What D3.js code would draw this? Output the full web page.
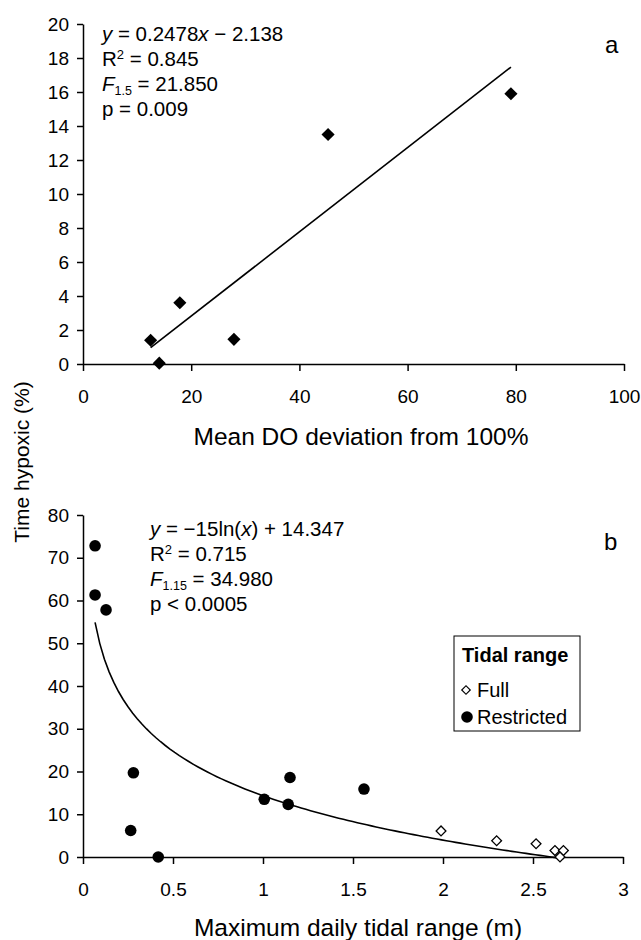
<!DOCTYPE html>
<html>
<head>
<meta charset="utf-8">
<script src="https://cdn.jsdelivr.net/npm/d3@7"></script>
<style>
  body { margin: 0; background: #fff; }
  svg { display: block; font-family: "Liberation Sans", Arial, sans-serif; }
  .axis path, .axis line { stroke: #000; stroke-width: 1.5; }
  .axis text { font-size: 19px; fill: #000; }
</style>
</head>
<body>
<svg width="641" height="940"></svg>
<script>
// panel a: mean DO deviation vs time hypoxic
const doDeviation = [12.5, 14.1, 17.9, 27.9, 45.3, 79.1];
const hypoxicA    = [1.4, 0.05, 3.6, 1.45, 13.5, 15.9];
const fitA = {slope: 0.2478, intercept: -2.138};
const xTicksA = [0, 20, 40, 60, 80, 100];
const yTicksA = [0, 2, 4, 6, 8, 10, 12, 14, 16, 18, 20];

// panel b: tidal range vs time hypoxic
const restrictedRange   = [0.067, 0.067, 0.128, 0.28, 0.265, 0.418, 1.007, 1.15, 1.14, 1.561];
const restrictedHypoxic = [72.8, 61.3, 57.8, 19.7, 6.2, 0, 13.5, 18.6, 12.3, 15.9];
const fullRange   = [1.989, 2.298, 2.517, 2.622, 2.669, 2.65];
const fullHypoxic = [6.1, 3.8, 3.1, 1.5, 1.5, 0];
const fitB = {a: -15, b: 14.347};
const xTicksB = [0, 0.5, 1, 1.5, 2, 2.5, 3];
const xLabelsB = ["0", "0.5", "1", "1.5", "2", "2.5", "3"];
const yTicksB = [0, 10, 20, 30, 40, 50, 60, 70, 80];

const svg = d3.select("svg");

function axes(x, y, xTicks, xLabels, yTicks) {
  svg.append("g")
    .attr("class", "axis")
    .attr("transform", `translate(0,${y.range()[0]})`)
    .call(d3.axisBottom(x).tickValues(xTicks).tickSize(7).tickSizeOuter(0)
      .tickPadding(19).tickFormat((d, i) => xLabels[i]));
  svg.append("g")
    .attr("class", "axis")
    .attr("transform", `translate(${x.range()[0]},0)`)
    .call(d3.axisLeft(y).tickValues(yTicks).tickSize(6).tickSizeOuter(0).tickPadding(8));
}

// regression stats, one text per line
function stats(x0, y0, lines) {
  const gap = [0, 25, 24.5, 25.5];
  let yy = y0;
  lines.forEach((parts, i) => {
    yy += gap[i];
    const t = svg.append("text")
      .attr("x", x0).attr("y", yy)
      .style("font-size", "20.5px");
    parts.forEach(p => {
      const s = t.append("tspan").text(p.t);
      if (p.i) s.style("font-style", "italic");
      if (p.sup) s.attr("dy", -7).style("font-size", "13px");
      if (p.sub) s.attr("dy", 4).style("font-size", "12.5px");
      if (p.back) s.attr("dy", p.back);
    });
  });
}

// ---------- panel a ----------
const xA = d3.scaleLinear().domain([0, 100]).range([83, 624]);
const yA = d3.scaleLinear().domain([0, 20]).range([364, 24]);
axes(xA, yA, xTicksA, xTicksA.map(String), yTicksA);

const extA = d3.extent(doDeviation);
svg.append("line")
  .attr("x1", xA(extA[0])).attr("y1", yA(fitA.slope * extA[0] + fitA.intercept))
  .attr("x2", xA(extA[1])).attr("y2", yA(fitA.slope * extA[1] + fitA.intercept))
  .attr("stroke", "#000").attr("stroke-width", 1.6);

svg.selectAll(".ptA")
  .data(doDeviation.map((d, i) => [d, hypoxicA[i]]))
  .join("path")
    .attr("class", "ptA")
    .attr("d", d3.symbol(d3.symbolSquare, 86))
    .attr("transform", d => `translate(${xA(d[0])},${yA(d[1])}) rotate(45)`)
    .attr("fill", "#000");

stats(102, 41, [
  [{t: "y", i: true}, {t: " = 0.2478"}, {t: "x", i: true}, {t: " \u2212 2.138"}],
  [{t: "R"}, {t: "2", sup: true}, {t: " = 0.845", back: 7}],
  [{t: "F", i: true}, {t: "1.5", sub: true}, {t: " = 21.850", back: -4}],
  [{t: "p = 0.009"}]
]);

svg.append("text").attr("x", 605).attr("y", 53)
  .style("font-size", "24px").text("a");

svg.append("text")
  .attr("x", 361).attr("y", 445)
  .attr("text-anchor", "middle")
  .style("font-size", "24.5px")
  .text("Mean DO deviation from 100%");

// ---------- panel b ----------
const xB = d3.scaleLinear().domain([0, 3]).range([83, 623]);
const yB = d3.scaleLinear().domain([0, 80]).range([857, 515]);
axes(xB, yB, xTicksB, xLabelsB, yTicksB);

const allRange = restrictedRange.concat(fullRange);
const extB = d3.extent(allRange);
const curve = d3.range(0, 101).map(k => {
  const xv = extB[0] + (extB[1] - extB[0]) * k / 100;
  return [xv, fitB.a * Math.log(xv) + fitB.b];
});
svg.append("path")
  .datum(curve)
  .attr("d", d3.line().x(d => xB(d[0])).y(d => yB(d[1])))
  .attr("fill", "none").attr("stroke", "#000").attr("stroke-width", 1.6);

svg.selectAll(".full")
  .data(fullRange.map((d, i) => [d, fullHypoxic[i]]))
  .join("path")
    .attr("class", "full")
    .attr("d", d3.symbol(d3.symbolSquare, 48))
    .attr("transform", d => `translate(${xB(d[0])},${yB(d[1])}) rotate(45)`)
    .attr("fill", "#fff").attr("stroke", "#000").attr("stroke-width", 1.3);

svg.selectAll(".restricted")
  .data(restrictedRange.map((d, i) => [d, restrictedHypoxic[i]]))
  .join("circle")
    .attr("class", "restricted")
    .attr("cx", d => xB(d[0])).attr("cy", d => yB(d[1]))
    .attr("r", 5.8)
    .attr("fill", "#000");

stats(150, 536, [
  [{t: "y", i: true}, {t: " = \u221215ln("}, {t: "x", i: true}, {t: ") + 14.347"}],
  [{t: "R"}, {t: "2", sup: true}, {t: " = 0.715", back: 7}],
  [{t: "F", i: true}, {t: "1.15", sub: true}, {t: " = 34.980", back: -4}],
  [{t: "p < 0.0005"}]
]);

svg.append("text").attr("x", 604).attr("y", 550)
  .style("font-size", "24px").text("b");

// legend
const legend = svg.append("g").attr("transform", "translate(454,636)");
legend.append("rect")
  .attr("width", 126).attr("height", 95)
  .attr("fill", "#fff").attr("stroke", "#000").attr("stroke-width", 1);
legend.append("text")
  .attr("x", 8).attr("y", 26)
  .style("font-size", "20px").style("font-weight", "bold")
  .text("Tidal range");
const keys = [{name: "Full", y: 54}, {name: "Restricted", y: 81}];
legend.selectAll(".key")
  .data(keys)
  .join("text")
    .attr("class", "key")
    .attr("x", 23).attr("y", d => d.y + 7)
    .style("font-size", "20px")
    .text(d => d.name);
legend.append("path")
  .attr("d", d3.symbol(d3.symbolSquare, 36))
  .attr("transform", `translate(12,${keys[0].y}) rotate(45)`)
  .attr("fill", "#fff").attr("stroke", "#000").attr("stroke-width", 1.2);
legend.append("circle")
  .attr("cx", 13).attr("cy", keys[1].y).attr("r", 5.8).attr("fill", "#000");

svg.append("text")
  .attr("x", 358).attr("y", 936)
  .attr("text-anchor", "middle")
  .style("font-size", "24.5px")
  .text("Maximum daily tidal range (m)");

// shared y title
svg.append("text")
  .attr("transform", "translate(29,462) rotate(-90)")
  .attr("text-anchor", "middle")
  .style("font-size", "21px")
  .text("Time hypoxic (%)");
</script>
</body>
</html>
